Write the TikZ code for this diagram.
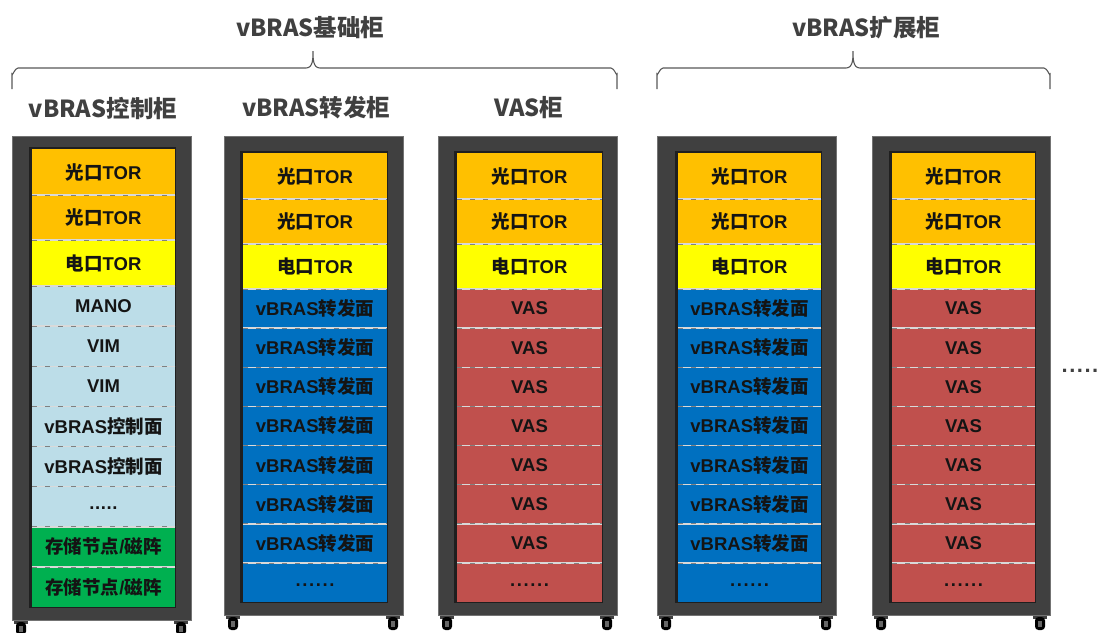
\documentclass[tikz,border=0pt]{standalone}
\usepackage{fontspec}
\newfontfamily\cjkf{Noto Sans CJK SC}
\newfontfamily\latf{Liberation Sans}
\definecolor{torO}{HTML}{FFC000}
\definecolor{torY}{HTML}{FFFF00}
\definecolor{ctlB}{HTML}{BCDDE8}
\definecolor{fwdB}{HTML}{0070C0}
\definecolor{vasR}{HTML}{C0504D}
\definecolor{stoG}{HTML}{00B050}
\definecolor{frameC}{HTML}{404040}
\definecolor{headC}{HTML}{404040}
\definecolor{braceC}{HTML}{595959}
\newcommand\tC[1]{{\cjkf\bfseries #1}}
\newcommand\tL[1]{{\latf\bfseries #1}}
\newcommand\tGK{\tC{光口}\tL{TOR}}
\newcommand\tDK{\tC{电口}\tL{TOR}}
\newcommand\tZF{\tL{vBRAS}\tC{转发面}}
\newcommand\tKZ{\tL{vBRAS}\tC{控制面}}
\newcommand\tCC{\tC{存储节点}\tL{/}\tC{磁阵}}
\newcommand\tVS{\tL{VAS}}
\newcommand\tMN{\tL{MANO}}
\newcommand\tVM{\tL{VIM}}
\newcommand\tDf{\raisebox{-3pt}[0pt][0pt]{\tL{.\kern0.6pt.\kern0.6pt.\kern0.6pt.\kern0.6pt.}}}
\newcommand\tDs{\raisebox{-4pt}[0pt][0pt]{\tL{.\kern1.6pt.\kern1.6pt.\kern1.6pt.\kern1.6pt.\kern1.6pt.}}}
\tikzset{
 slotbox/.style={inner sep=0pt, outer sep=0pt, text=black!92, font=\fontsize{18.5}{18.5}\selectfont},
 head/.style={text=headC, font=\cjkf\bfseries\fontsize{23.5}{23.5}\selectfont, inner sep=0pt},
 frame/.style={fill=frameC, draw=black!55, line width=0.6pt},
 sepline/.style={draw=white!85!black, line width=1.5pt},
 sepdash/.style={draw=black!50, line width=0.7pt, dash pattern=on 5pt off 8pt},
 bracel/.style={draw=braceC, line width=1.1pt},
}
% #1 name, #2 oL, #3 oR, #4 oB, #5 sL, #6 sR, #7 boundaries, #8 slots
\newcommand\myrack[8]{%
 \pgfmathsetmacro\sT{{#7}[0]}
 \pgfmathsetmacro\sB{{#7}[11]}
 \fill[frameC] ({#2+9-7},#4) rectangle ({#2+9+7},#4+4);
 \fill[frameC] ({#3-10-7},#4) rectangle ({#3-10+7},#4+4);
 \fill[black, rounded corners=3.5pt] ({#2+9-5},#4+2) rectangle ({#2+9+5},#4+15);
 \fill[black, rounded corners=3.5pt] ({#3-10-5},#4+2) rectangle ({#3-10+5},#4+15);
 \fill[black!60] ({#2+9-2},#4+6) rectangle ({#2+9+2},#4+12);
 \fill[black!60] ({#3-10-2},#4+6) rectangle ({#3-10+2},#4+12);
 \path[frame] (#2,136) rectangle (#3,#4);
 \fill[black!88] ({#5-3},\sT-2.5) rectangle ({#6+1},\sB+1);
 \foreach \tx/\co [count=\i] in {#8} {
   \pgfmathsetmacro\yt{{#7}[\i-1]}
   \pgfmathsetmacro\yb{{#7}[\i]}
   \node[slotbox, fill=\co, minimum width={#6-#5}, minimum height={\yb-\yt}] (#1s\i) at ({(#5+#6)/2},{(\yt+\yb)/2}) {\tx};
 }
 \foreach \i in {1,...,10} {
   \draw[sepline] (#1s\i.south west) -- (#1s\i.south east);
   \draw[sepdash] (#1s\i.south west) -- (#1s\i.south east);
 }
}
\begin{document}
\begin{tikzpicture}[x=1pt,y=-1pt]
\useasboundingbox[fill=white] (0,0) rectangle (1099,632);
% headers
\node[head] (hbase) at (310,28) {vBRAS基础柜};
\node[head] (hext) at (866,28) {vBRAS扩展柜};
\node[head] (hctl) at (103,108) {vBRAS控制柜};
\node[head] (hfwd) at (316,108) {vBRAS转发柜};
\node[head] (hvas) at (529,108) {VAS柜};
% braces
\draw[bracel] (12,89) -- (12,74) to[out=270,in=180] (18,68) -- (306,68) to[out=0,in=270] (313,51) to[out=270,in=180] (320,68) -- (611,68) to[out=0,in=270] (617,74) -- (617,89);
\draw[bracel] (657,89) -- (657,74) to[out=270,in=180] (663,68) -- (846,68) to[out=0,in=270] (853,51) to[out=270,in=180] (860,68) -- (1044,68) to[out=0,in=270] (1050,74) -- (1050,89);
% racks
\myrack{ra}{12}{191}{620}{32}{175}{149,195,240,286,326.1,366.25,406.4,446.5,486.6,526.75,566.9,607}
 {\tGK/torO,\tGK/torO,\tDK/torY,\tMN/ctlB,\tVM/ctlB,\tVM/ctlB,\tKZ/ctlB,\tKZ/ctlB,\tDf/ctlB,\tCC/stoG,\tCC/stoG}
\myrack{rb}{224}{403}{615}{243}{387}{153,199,244,289,328.1,367.25,406.4,445.5,484.6,523.75,562.9,602}
 {\tGK/torO,\tGK/torO,\tDK/torY,\tZF/fwdB,\tZF/fwdB,\tZF/fwdB,\tZF/fwdB,\tZF/fwdB,\tZF/fwdB,\tZF/fwdB,\tDs/fwdB}
\myrack{rc}{438}{617}{615}{457}{602}{153,199,244,289,328.1,367.25,406.4,445.5,484.6,523.75,562.9,602}
 {\tGK/torO,\tGK/torO,\tDK/torY,\tVS/vasR,\tVS/vasR,\tVS/vasR,\tVS/vasR,\tVS/vasR,\tVS/vasR,\tVS/vasR,\tDs/vasR}
\myrack{rd}{657}{836}{615}{678}{821}{153,199,244,289,328.1,367.25,406.4,445.5,484.6,523.75,562.9,602}
 {\tGK/torO,\tGK/torO,\tDK/torY,\tZF/fwdB,\tZF/fwdB,\tZF/fwdB,\tZF/fwdB,\tZF/fwdB,\tZF/fwdB,\tZF/fwdB,\tDs/fwdB}
\myrack{re}{872}{1050}{615}{892}{1035}{153,199,244,289,328.1,367.25,406.4,445.5,484.6,523.75,562.9,602}
 {\tGK/torO,\tGK/torO,\tDK/torY,\tVS/vasR,\tVS/vasR,\tVS/vasR,\tVS/vasR,\tVS/vasR,\tVS/vasR,\tVS/vasR,\tDs/vasR}
\node[text=headC, inner sep=0pt, font=\latf\bfseries\fontsize{22}{22}\selectfont] (more) at (1080,371) {.\kern1.5pt.\kern1.5pt.\kern1.5pt.\kern1.5pt.};
\end{tikzpicture}
\end{document}
